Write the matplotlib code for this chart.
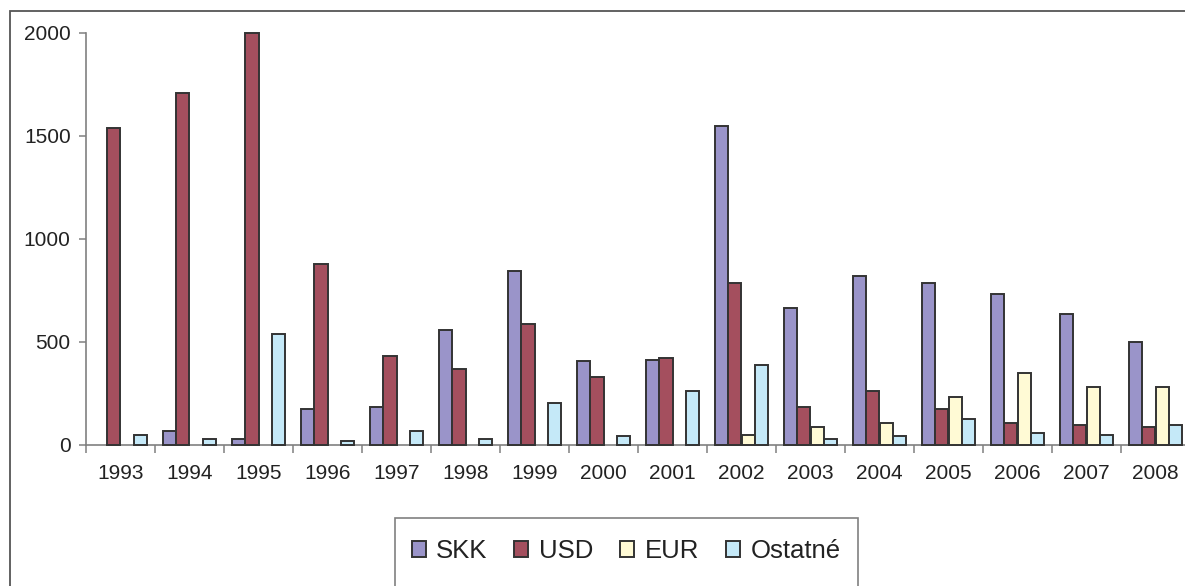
import numpy as np
import matplotlib
matplotlib.use('Agg')
import matplotlib.pyplot as plt
from matplotlib.patches import Rectangle

plt.rcParams['font.family'] = ['Liberation Sans', 'DejaVu Sans']

years = ['1993', '1994', '1995', '1996', '1997', '1998', '1999', '2000',
         '2001', '2002', '2003', '2004', '2005', '2006', '2007', '2008']
skk = [0, 68, 27, 172, 182, 555, 845, 405, 413, 1550, 664, 820, 787, 730, 636, 500]
usd = [1540, 1710, 2000, 875, 431, 365, 585, 327, 421, 787, 183, 260, 173, 105, 95, 86]
eur = [0, 0, 0, 0, 0, 0, 0, 0, 0, 47, 86, 105, 230, 346, 279, 279]
ostatne = [47, 27, 537, 19, 66, 27, 200, 40, 260, 385, 27, 40, 125, 57, 47, 95]

series = [('SKK', skk, '#9a94c9'),
          ('USD', usd, '#a44f5e'),
          ('EUR', eur, '#fffad5'),
          ('Ostatné', ostatne, '#c5e9f8')]

W, H = 1185, 586
fig = plt.figure(figsize=(W / 100, H / 100), dpi=100)

# outer chart frame (cut off on the right and bottom)
fig.patches.append(Rectangle((9.5 / W, -0.1), 1.2, (H - 11) / H + 0.1,
                             transform=fig.transFigure, fill=False,
                             edgecolor='#555555', linewidth=1.3))

ax = fig.add_axes([86 / W, (H - 444.5) / H, 1104 / W, 411.5 / H])

x = np.arange(len(years))
bw = 0.19
for i, (name, vals, col) in enumerate(series):
    v = np.array(vals, dtype=float)
    v[v == 0] = np.nan
    ax.bar(x + (i - 1.5) * bw, v, bw, color=col, edgecolor='#333333',
           linewidth=1.4, label=name, clip_on=False, zorder=3)

ax.set_xlim(-0.5, len(years) - 0.5)
ax.set_ylim(0, 2000)
ax.set_yticks([0, 500, 1000, 1500, 2000])
ax.set_xticks(x)
ax.set_xticklabels(years)
ax.set_xticks(np.arange(len(years)) - 0.5, minor=True)

for s in ['top', 'right']:
    ax.spines[s].set_visible(False)
for s in ['left', 'bottom']:
    ax.spines[s].set_color('#808080')
    ax.spines[s].set_linewidth(1.2)

ax.tick_params(axis='y', length=5, width=1.1, color='#808080', pad=6,
               labelsize=15, labelcolor='#222222')
ax.tick_params(axis='x', which='major', length=0, pad=14,
               labelsize=15, labelcolor='#222222')
ax.tick_params(axis='x', which='minor', length=6, width=1.1, color='#808080')

leg = fig.legend(loc='center', bbox_to_anchor=(626 / W, 0.06), ncol=4,
                 frameon=False, fontsize=18.5, handlelength=0.55,
                 handleheight=0.6, handletextpad=0.4, columnspacing=1.05,
                 labelcolor='#222222')

# legend frame, bottom edge lies outside the figure
fig.patches.append(Rectangle((395 / W, -0.1), 463 / W, (H - 518) / H + 0.1,
                             transform=fig.transFigure, fill=False,
                             edgecolor='#808080', linewidth=1.2))

fig.savefig('out.png', dpi=100)
